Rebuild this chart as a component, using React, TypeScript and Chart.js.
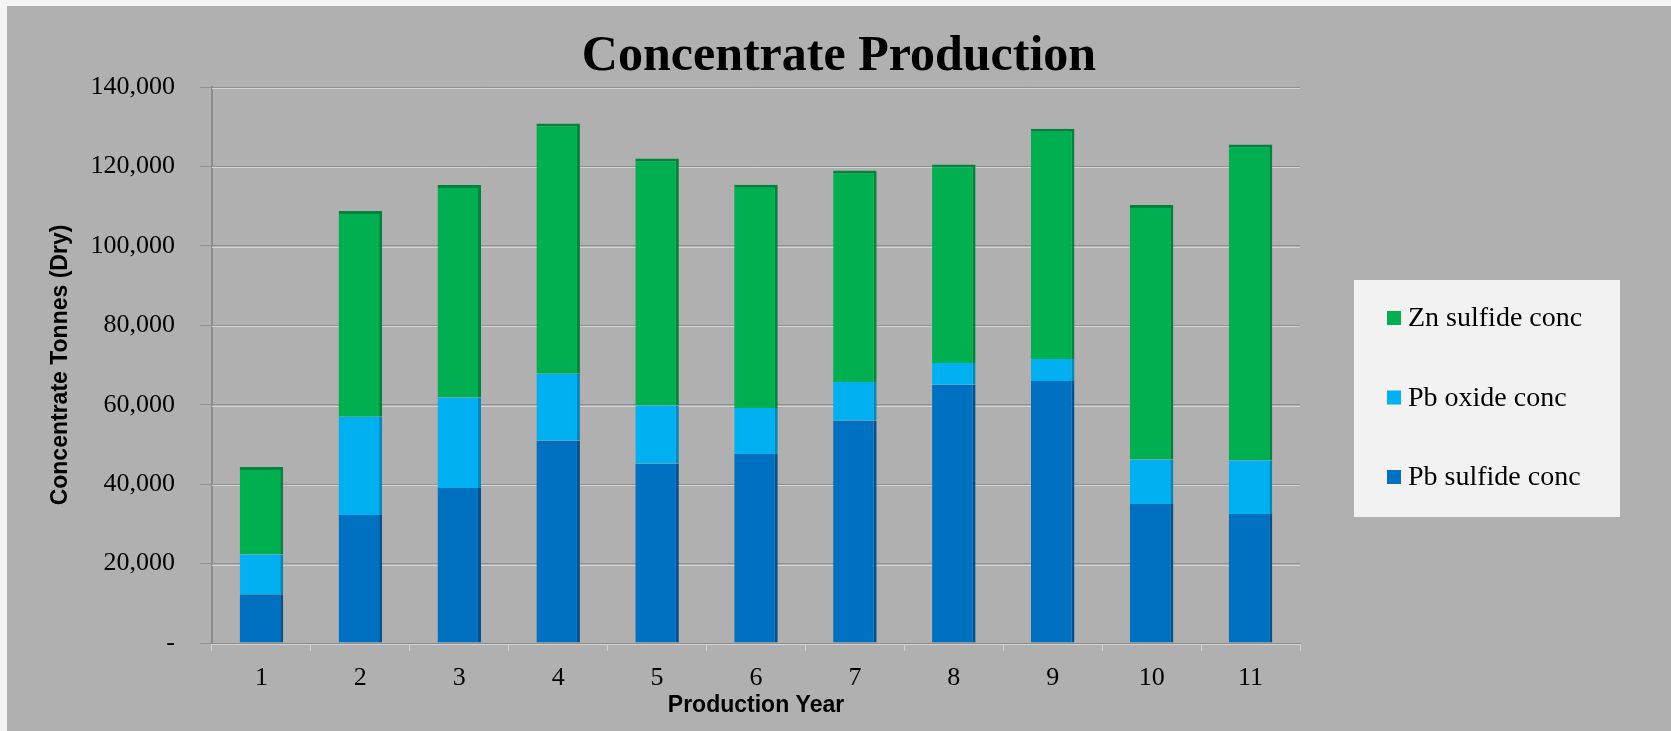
import React, { useEffect, useRef } from "react";
import { Chart, registerables } from "chart.js";

Chart.register(...registerables);

// ---- Data ----
const years = ["1", "2", "3", "4", "5", "6", "7", "8", "9", "10", "11"];
const pbSulfide = [12300, 32200, 39000, 51000, 45200, 47600, 56000, 65000, 66000, 35000, 32500];
const pbOxide = [10000, 24800, 22800, 16800, 14600, 11600, 9700, 5500, 5500, 11200, 13500];
const znSulfide = [22000, 51800, 53500, 63000, 62200, 56200, 53300, 50000, 58000, 64100, 79500];
const yMin = 0;
const yMax = 140000;
const yStep = 20000;

const seriesNames = ["Pb sulfide conc", "Pb oxide conc", "Zn sulfide conc"];
const seriesColors = ["#0070C0", "#00B0F0", "#00B050"];
const seriesSideColors = ["#00528e", "#0088bd", "#00843c"];

const SERIF = "'Liberation Serif', 'DejaVu Serif', serif";
const SANS = "'Liberation Sans', Arial, sans-serif";

const gridShadow = {
  id: "gridShadow",
  beforeDatasetsDraw(chart: any) {
    const { ctx, chartArea, scales } = chart;
    const y = scales.y;
    ctx.save();
    ctx.strokeStyle = "#d4d4d4";
    ctx.lineWidth = 1;
    y.ticks.forEach((t: any) => {
      const py = Math.round(y.getPixelForValue(t.value)) + 1.5;
      ctx.beginPath();
      ctx.moveTo(chartArea.left, py);
      ctx.lineTo(chartArea.right, py);
      ctx.stroke();
    });
    ctx.restore();
  },
};

const boxLegend = {
  id: "boxLegend",
  afterDraw(chart: any) {
    const { ctx, chartArea } = chart;
    const left = chartArea.right + 54;
    const top = 274;
    const w = 266;
    const h = 237;
    ctx.save();
    ctx.fillStyle = "#F2F2F2";
    ctx.fillRect(left, top, w, h);
    const ds = chart.data.datasets.slice().reverse();
    ctx.font = `28px ${SERIF}`;
    ctx.textBaseline = "middle";
    ctx.textAlign = "left";
    ds.forEach((d: any, i: number) => {
      const cy = top + 38 + i * 79.5;
      ctx.fillStyle = d.backgroundColor;
      ctx.fillRect(left + 33, cy - 7, 14, 14);
      ctx.fillStyle = "#000";
      ctx.fillText(d.label, left + 54, cy + 1);
    });
    ctx.restore();
  },
};

export default function App() {
  const canvasRef = useRef<HTMLCanvasElement | null>(null);

  useEffect(() => {
    if (!canvasRef.current) return;
    const values = [pbSulfide, pbOxide, znSulfide];
    const chart = new Chart(canvasRef.current, {
      type: "bar",
      data: {
        labels: years,
        datasets: values.map((v, i) => ({
          label: seriesNames[i],
          data: v,
          backgroundColor: seriesColors[i],
          borderColor: seriesSideColors[i],
          borderWidth: i === 2 ? { top: 3, right: 3, bottom: 0, left: 0 } : { top: 0, right: 3, bottom: 0, left: 0 },
          borderSkipped: false,
          categoryPercentage: 1,
          barPercentage: 0.44,
        })),
      },
      options: {
        animation: false,
        responsive: false,
        layout: { padding: 0 },
        plugins: {
          legend: { display: false },
          tooltip: { enabled: false },
          title: {
            display: true,
            text: "Concentrate Production",
            color: "#000",
            font: { family: SERIF, size: 50, weight: "bold" },
            padding: { top: 21, bottom: 0 },
          },
        },
        scales: {
          x: {
            stacked: true,
            grid: {
              display: true,
              drawOnChartArea: false,
              drawTicks: true,
              tickLength: 8,
              color: "#d0d0d0",
            },
            border: { display: true, color: "#8c8c8c", width: 1 },
            ticks: {
              color: "#000",
              font: { family: SERIF, size: 26 },
              padding: 12,
              maxRotation: 0,
              autoSkip: false,
            },
            title: {
              display: true,
              text: "Production Year",
              color: "#000",
              font: { family: SANS, size: 23, weight: "bold" },
              padding: { top: 0, bottom: 12 },
            },
            afterFit: (s: any) => {
              s.height = 88;
            },
          },
          y: {
            stacked: true,
            min: yMin,
            max: yMax,
            ticks: {
              stepSize: yStep,
              color: "#000",
              font: { family: SERIF, size: 26 },
              padding: 25,
              callback: (v: any) => (Number(v) === 0 ? "-" : Number(v).toLocaleString("en-US")),
            },
            grid: {
              color: "#909090",
              lineWidth: 1,
              drawTicks: true,
              tickLength: 12,
            },
            border: { display: true, color: "#8c8c8c", width: 2 },
            title: {
              display: true,
              text: "Concentrate Tonnes (Dry)",
              color: "#000",
              font: { family: SANS, size: 23, weight: "bold" },
              padding: { top: 40, bottom: 0 },
            },
            afterFit: (s: any) => {
              s.width = 205;
            },
          },
          yRight: {
            type: "linear",
            position: "right",
            display: true,
            grid: { display: false },
            border: { display: false },
            ticks: { display: false },
            afterFit: (s: any) => {
              s.width = 371;
            },
          },
        },
      },
      plugins: [gridShadow, boxLegend],
    });
    return () => chart.destroy();
  }, []);

  return (
    <div
      style={{
        position: "absolute",
        left: 0,
        top: 0,
        width: 1671,
        height: 731,
        background: "#f4f4f4",
        overflow: "hidden",
      }}
    >
      <div
        style={{
          position: "absolute",
          left: 7,
          top: 6,
          width: 1664,
          height: 725,
          background: "#b0b0b0",
        }}
      >
        <canvas ref={canvasRef} width={1664} height={725} style={{ display: "block" }} />
      </div>
    </div>
  );
}
